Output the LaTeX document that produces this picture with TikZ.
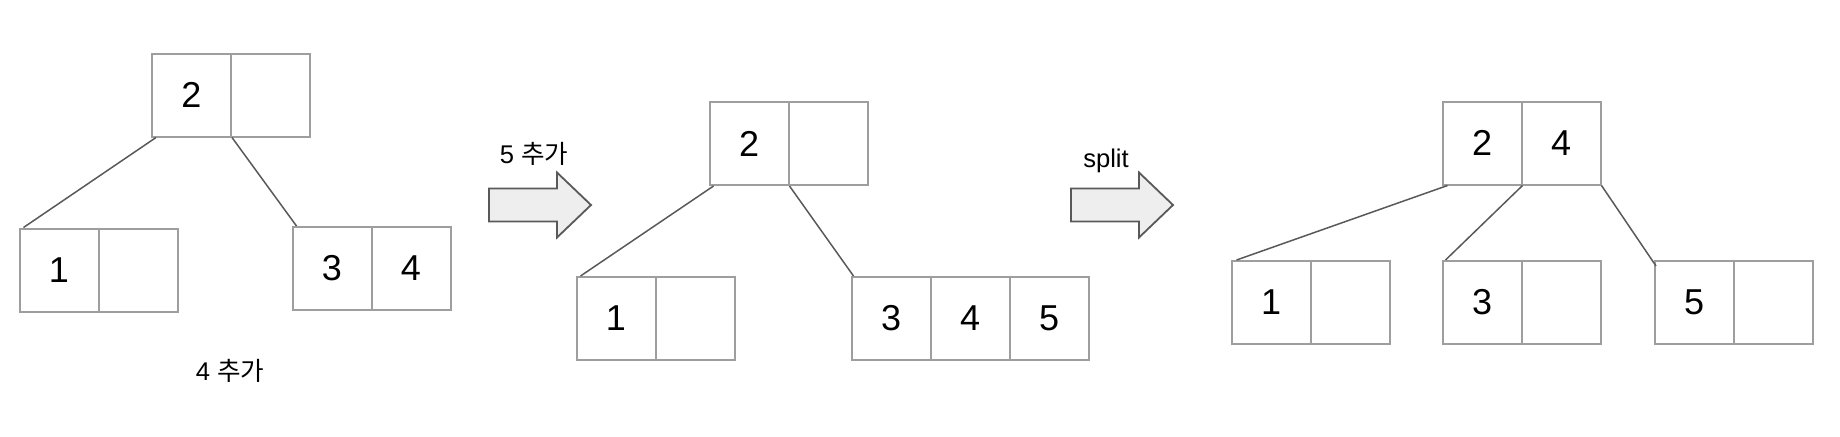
\documentclass[tikz,border=0pt]{standalone}
\usepackage{fontspec}
\setmainfont{Liberation Sans}
\newfontfamily\kor{Noto Sans CJK KR}
\definecolor{gris}{HTML}{9E9E9E}
\definecolor{fonce}{HTML}{595959}
\definecolor{clair}{HTML}{EEEEEE}
\begin{document}
\begin{tikzpicture}[x=0.5pt,y=-0.5pt]
% Styles
\tikzstyle{case}=[draw=gris,line width=1pt,minimum width=39.5pt,minimum height=41.5pt,inner sep=0pt,font=\fontsize{18}{18}\selectfont]
\tikzstyle{lien}=[draw=fonce,line width=0.75pt]
\tikzstyle{fleche}=[draw=fonce,fill=clair,line width=0.9pt,line join=miter]
\tikzstyle{etiquette}=[anchor=base,inner sep=0pt,font=\fontsize{12.8}{12.8}\selectfont]
% Cadre
\useasboundingbox (0,0) rectangle (1840,436);
% Arbre 1 : 4 ajoute
\node[case] (a1) at (191.5,95) {2};
\node[case] (a2) at (270.5,95) {};
\node[case] (b1) at (59,270) {1};
\node[case] (b2) at (138,270) {};
\node[case] (c1) at (332,268.5) {3};
\node[case] (c2) at (411,268.5) {4};
\draw[lien] ([xshift=2.5pt]a1.south west) -- ([xshift=2.5pt]b1.north west);
\draw[lien] (a1.south east) -- ([xshift=2.5pt]c1.north west);
\node[etiquette] (l4) at (230,380) {4 {\kor 추가}};
% Fleche 1
\draw[fleche] (489,188.5) -- (557,188.5) -- (557,172.5) -- (591,205) -- (557,237.5) -- (557,221.5) -- (489,221.5) -- cycle;
\node[etiquette] (l5) at (534,163) {5 {\kor 추가}};
% Arbre 2 : 5 ajoute
\node[case] (d1) at (749,143.5) {2};
\node[case] (d2) at (828,143.5) {};
\node[case] (e1) at (616,318.5) {1};
\node[case] (e2) at (695,318.5) {};
\node[case] (f1) at (891,318.5) {3};
\node[case] (f2) at (970,318.5) {4};
\node[case] (f3) at (1049,318.5) {5};
\draw[lien] ([xshift=2.5pt]d1.south west) -- ([xshift=2.5pt]e1.north west);
\draw[lien] (d1.south east) -- ([xshift=1.5pt]f1.north west);
% Fleche 2
\draw[fleche] (1071,188.5) -- (1139,188.5) -- (1139,172.5) -- (1173,205) -- (1139,237.5) -- (1139,221.5) -- (1071,221.5) -- cycle;
\node[etiquette] (ls) at (1106,167) {split};
% Arbre 3 : apres split
\node[case] (g1) at (1482,143) {2};
\node[case] (g2) at (1561,143) {4};
\node[case] (h1) at (1271,302.5) {1};
\node[case] (h2) at (1350,302.5) {};
\node[case] (i1) at (1482,302.5) {3};
\node[case] (i2) at (1561,302.5) {};
\node[case] (j1) at (1694,302.5) {5};
\node[case] (j2) at (1773,302.5) {};
\draw[lien] ([xshift=3pt]g1.south west) -- ([xshift=3pt]h1.north west);
\draw[lien] (g1.south east) -- ([xshift=2pt]i1.north west);
\draw[lien] (g2.south east) -- ([xshift=1.25pt,yshift=-3pt]j1.north west);
\end{tikzpicture}
\end{document}
